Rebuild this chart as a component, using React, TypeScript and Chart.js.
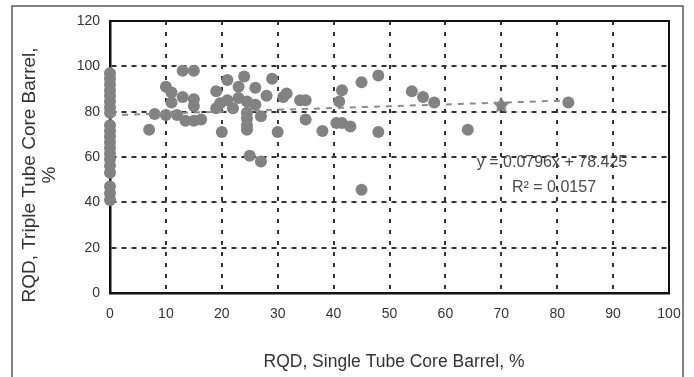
import { useEffect, useRef } from "react";
import { Chart, registerables } from "chart.js";

Chart.register(...registerables);

// RQD, Single Tube Core Barrel (%)
const SINGLE_TUBE = [
  0, 0, 0, 0, 0, 0, 0, 0, 0, 0, 0, 0, 0, 0, 0, 0, 0, 0, 0, 0,
  7, 8, 10, 10, 11, 11, 12, 13, 13, 15, 15, 15, 13.5, 15, 16.3,
  19, 19, 19.7, 20, 21, 21, 22, 23, 23, 24, 24.5, 24.5, 24.5, 24.5, 24.5, 25, 26, 26, 27, 27, 28, 29, 30,
  31, 31.6, 34, 35, 35, 38, 40.5, 41.5, 43, 41, 41.5, 45, 48, 48, 45, 54, 56, 58, 64, 82,
];
// RQD, Triple Tube Core Barrel (%)
const TRIPLE_TUBE = [
  97, 94.5, 92, 89.5, 87, 84.5, 82, 79.5, 74, 71.5, 69, 66.5, 64, 61.5, 59, 56, 53, 47, 44, 41,
  72, 79, 91, 78.5, 88.5, 84, 78.5, 86.5, 98, 98, 85.5, 82.5, 76, 76, 76.5,
  89, 81.5, 83.7, 71, 94, 85, 81.5, 91, 86, 95.5, 84.5, 79.5, 77, 74, 72, 60.5, 90.5, 83, 78, 58, 87, 94.5, 71,
  86.5, 88, 85, 85, 76.5, 71.5, 75, 75, 73.5, 84.5, 89.5, 93, 96, 71, 45.5, 89, 86.5, 84, 72, 84,
];
// point drawn with a star marker
const STAR_X = [70];
const STAR_Y = [83];

// linear trendline
const TREND_SLOPE = 0.0796;
const TREND_INTERCEPT = 78.425;
const TREND_X = [0, 82];
const EQUATION_TEXT = "y = 0.0796x + 78.425";
const R2_TEXT = "R\u00B2 = 0.0157";

const X_TICKS = { min: 0, max: 100, step: 10 };
const Y_TICKS = { min: 0, max: 120, step: 20 };
const X_TITLE = "RQD, Single Tube Core Barrel, %";
const Y_TITLE = ["RQD, Triple Tube Core Barrel,", "%"];

const FONT = "'Liberation Sans', Arial, Helvetica, sans-serif";

function makeStar(): HTMLCanvasElement {
  const c = document.createElement("canvas");
  c.width = 18;
  c.height = 18;
  const ctx = c.getContext("2d")!;
  ctx.fillStyle = "#808080";
  ctx.beginPath();
  for (let i = 0; i < 10; i++) {
    const r = i % 2 === 0 ? 8.5 : 4.5;
    const a = -Math.PI / 2 + (i * Math.PI) / 5;
    const px = 9 + r * Math.cos(a);
    const py = 9.5 + r * Math.sin(a);
    if (i === 0) ctx.moveTo(px, py);
    else ctx.lineTo(px, py);
  }
  ctx.closePath();
  ctx.fill();
  return c;
}

const decorPlugin = {
  id: "decor",
  afterDraw(chart: any) {
    const { ctx, chartArea } = chart;
    const { left, right, top, bottom } = chartArea;
    ctx.save();
    // outer frame
    ctx.strokeStyle = "#5a5a5a";
    ctx.lineWidth = 1.5;
    ctx.strokeRect(12, 6, 671, 420);
    // plot top/right border
    ctx.strokeStyle = "#111";
    ctx.lineWidth = 2;
    ctx.beginPath();
    ctx.moveTo(left - 1, top);
    ctx.lineTo(right, top);
    ctx.lineTo(right, bottom + 1);
    ctx.stroke();

    // equation text
    ctx.fillStyle = "#4a4a4a";
    ctx.font = `16px ${FONT}`;
    ctx.textAlign = "center";
    ctx.textBaseline = "middle";
    ctx.fillText(EQUATION_TEXT, 552, 163);
    ctx.fillText(R2_TEXT, 554, 188);

    // x axis title
    ctx.fillStyle = "#333";
    ctx.font = `17.5px ${FONT}`;
    ctx.fillText(X_TITLE, 394, 362);

    // y axis title
    ctx.font = `19px ${FONT}`;
    ctx.translate(30, 175);
    ctx.rotate(-Math.PI / 2);
    ctx.fillText(Y_TITLE[0], 0, 0);
    ctx.fillText(Y_TITLE[1], 0, 20);
    ctx.restore();
  },
};

export default function App() {
  const ref = useRef<HTMLCanvasElement | null>(null);

  useEffect(() => {
    document.body.style.margin = "0";
    const canvas = ref.current!;
    const points = SINGLE_TUBE.map((x, i) => ({ x, y: TRIPLE_TUBE[i] }));
    const star = STAR_X.map((x, i) => ({ x, y: STAR_Y[i] }));
    const trend = TREND_X.map((x) => ({ x, y: TREND_SLOPE * x + TREND_INTERCEPT }));
    const starImg = makeStar();

    const chart = new Chart(canvas, {
      type: "scatter",
      data: {
        datasets: [
          {
            label: "Trend",
            data: trend,
            showLine: true,
            borderColor: "#8c8c8c",
            borderWidth: 2,
            borderDash: [6, 6],
            pointRadius: 0,
            fill: false,
          } as any,
          {
            label: "Star",
            data: star,
            pointStyle: starImg as any,
            pointRadius: 9,
            clip: false,
          } as any,
          {
            label: "RQD",
            data: points,
            backgroundColor: "#828282",
            borderColor: "#828282",
            borderWidth: 0,
            pointRadius: 6,
            pointHoverRadius: 6,
            clip: false,
          } as any,
        ],
      },
      options: {
        animation: false,
        responsive: false,
        devicePixelRatio: 1,
        events: [],
        layout: { padding: { left: 0, top: 21, right: 25, bottom: 0 } },
        plugins: { legend: { display: false }, tooltip: { enabled: false }, title: { display: false } },
        scales: {
          x: {
            type: "linear",
            min: X_TICKS.min,
            max: X_TICKS.max,
            ticks: {
              stepSize: X_TICKS.step,
              padding: 13,
              color: "#333",
              font: { family: FONT, size: 14 },
            },
            grid: { color: "#333", lineWidth: 2, drawTicks: false },
            border: { display: true, color: "#111", width: 2.5, dash: [4, 7] },
            afterFit: (s: any) => {
              s.height = 84;
            },
          },
          y: {
            type: "linear",
            min: Y_TICKS.min,
            max: Y_TICKS.max,
            ticks: {
              stepSize: Y_TICKS.step,
              padding: 10,
              color: "#333",
              font: { family: FONT, size: 14 },
            },
            grid: { color: "#333", lineWidth: 2, drawTicks: false },
            border: { display: true, color: "#111", width: 2.5, dash: [5, 5] },
            afterFit: (s: any) => {
              s.width = 110;
            },
          },
        },
      },
      plugins: [decorPlugin],
    });
    return () => chart.destroy();
  }, []);

  return (
    <div style={{ width: 694, height: 377, background: "#fff" }}>
      <canvas ref={ref} width={694} height={377} style={{ display: "block" }} />
    </div>
  );
}
